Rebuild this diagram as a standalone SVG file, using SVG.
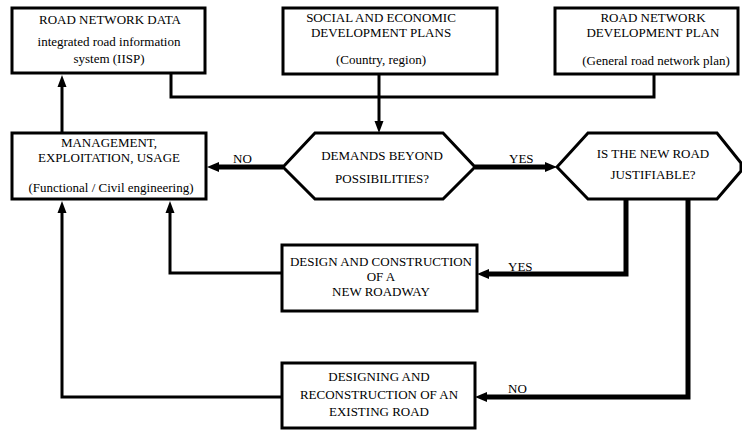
<svg xmlns="http://www.w3.org/2000/svg" width="742" height="431" viewBox="0 0 742 431">
<style>
.box{fill:#fff;stroke:#000;stroke-width:3}
.t{font-family:"Liberation Serif","Times New Roman",serif;font-size:13px;fill:#000;text-anchor:middle}
.lb{font-family:"Liberation Serif","Times New Roman",serif;font-size:13px;fill:#000}
.thin{fill:none;stroke:#000;stroke-width:3}
.thick{fill:none;stroke:#000;stroke-width:5}
</style>
<defs>
<marker id="ah" markerUnits="userSpaceOnUse" markerWidth="12" markerHeight="10" refX="2" refY="5" orient="auto">
<path d="M0,0 L12,5 L0,10 z" fill="#000"/>
</marker>
<marker id="ahs" markerUnits="userSpaceOnUse" markerWidth="12" markerHeight="10" refX="2" refY="5" orient="auto">
<path d="M0,0.5 L12,5 L0,9.5 z" fill="#000"/>
</marker>
</defs>
<rect width="742" height="431" fill="#fff"/>
<g id="connectors">
<path class="thin" d="M171,73 V97 H654 V75"/>
<path class="thin" d="M379,74 V123" marker-end="url(#ahs)"/>
<path class="thin" d="M62,133 V85" marker-end="url(#ahs)"/>
<path class="thick" d="M283,167 H217" marker-end="url(#ah)"/>
<path class="thick" d="M475,167 H547" marker-end="url(#ah)"/>
<path class="thick" d="M626,199 V274 H487" marker-end="url(#ah)"/>
<path class="thick" d="M688,199 V397 H485" marker-end="url(#ah)"/>
<path class="thin" d="M282,273 H170 V211" marker-end="url(#ahs)"/>
<path class="thin" d="M282,397 H62 V211" marker-end="url(#ahs)"/>
<text class="lb" x="233" y="163">NO</text>
<text class="lb" x="509" y="163">YES</text>
<text class="lb" x="508" y="271">YES</text>
<text class="lb" x="508" y="393">NO</text>
</g>
<g id="road-network-data">
<rect class="box" x="12" y="8" width="193" height="65"/>
<text class="t" x="110" y="24">ROAD NETWORK DATA</text>
<text class="t" x="109" y="46">integrated road information</text>
<text class="t" x="109" y="63">system (IISP)</text>
</g>
<g id="social-economic">
<rect class="box" x="283" y="8" width="214" height="66"/>
<text class="t" x="381" y="22">SOCIAL AND ECONOMIC</text>
<text class="t" x="381" y="37">DEVELOPMENT PLANS</text>
<text class="t" x="381" y="64">(Country, region)</text>
</g>
<g id="road-network-plan">
<rect class="box" x="555" y="8" width="183" height="66"/>
<text class="t" x="653" y="22">ROAD NETWORK</text>
<text class="t" x="653" y="37">DEVELOPMENT PLAN</text>
<text class="t" x="656" y="65">(General road network plan)</text>
</g>
<g id="management">
<rect class="box" x="12" y="133" width="194" height="66"/>
<text class="t" x="109" y="147">MANAGEMENT,</text>
<text class="t" x="109" y="162">EXPLOITATION, USAGE</text>
<text class="t" x="111" y="192">(Functional / Civil engineering)</text>
</g>
<g id="demands">
<polygon class="box" points="283,167 315,133 443,133 475,167 443,199 315,199"/>
<text class="t" x="382" y="160">DEMANDS BEYOND</text>
<text class="t" x="382" y="183">POSSIBILITIES?</text>
</g>
<g id="justifiable">
<polygon class="box" points="557,167 588,133 717,133 741,163 741,171 717,199 588,199"/>
<text class="t" x="653" y="158">IS THE NEW ROAD</text>
<text class="t" x="653" y="179">JUSTIFIABLE?</text>
</g>
<g id="new-roadway">
<rect class="box" x="282" y="245" width="195" height="66"/>
<text class="t" x="381" y="266">DESIGN AND CONSTRUCTION</text>
<text class="t" x="381" y="281">OF A</text>
<text class="t" x="381" y="296">NEW ROADWAY</text>
</g>
<g id="reconstruction">
<rect class="box" x="282" y="363" width="193" height="65"/>
<text class="t" x="379" y="381">DESIGNING AND</text>
<text class="t" x="379" y="399">RECONSTRUCTION OF AN</text>
<text class="t" x="379" y="416">EXISTING ROAD</text>
</g>
</svg>
